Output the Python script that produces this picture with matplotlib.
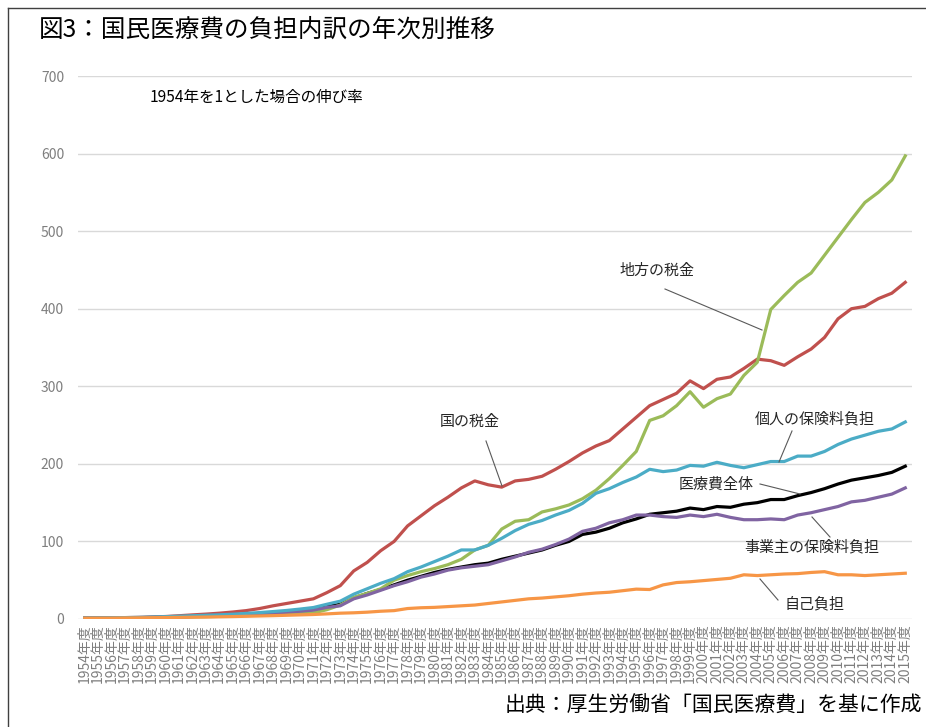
import matplotlib
matplotlib.use("Agg")
import matplotlib.pyplot as plt
from matplotlib.lines import Line2D

plt.rcParams['font.family'] = ['Noto Sans CJK JP', 'DejaVu Sans']

# 年度
years = list(range(1954, 2016))
year_labels = [f'{y}年度' for y in years]

# 1954年を1とした伸び率
national_tax = [1, 1.2, 1.5, 1.8, 2.1, 2.6, 3.2, 4.2, 5.3, 6.3, 7.5, 9, 10.8, 13.5, 17, 20, 23, 26, 34,
                43, 62, 73, 88, 100, 120, 133, 146, 157, 169, 178, 173, 170, 178, 180, 184, 193,
                203, 214, 223, 230, 245, 260, 275, 283, 291, 307, 297, 309, 312, 323, 335, 333, 327,
                338, 348, 363, 387, 400, 403, 413, 420, 434]
local_tax = [1, 1.1, 1.2, 1.4, 1.6, 1.8, 2, 2.3, 2.7, 3, 3.4, 3.9, 4.4, 5, 5.6, 6.2, 6.9, 7.8, 12,
             18, 28, 33, 39, 50, 56, 61, 65, 70, 77, 89, 95, 116, 126, 128, 138, 142,
             147, 155, 166, 181, 198, 216, 256, 262, 275, 293, 273, 284, 290, 314, 331, 399, 417,
             434, 446, 469, 492, 515, 537, 550, 566, 597]
personal_premium = [1, 1.2, 1.5, 1.8, 2.1, 2.5, 3, 3.6, 4.2, 4.8, 5.4, 6.2, 7.2, 8.3, 9.6, 11, 12.8, 14.8, 19,
                    23, 32, 39, 46, 52, 61, 67, 74, 81, 89, 89, 95, 104, 114, 122, 127, 134,
                    140, 149, 162, 168, 176, 183, 193, 190, 192, 198, 197, 202, 198, 195, 199, 203, 203,
                    210, 210, 216, 225, 232, 237, 242, 245, 254]
total_cost = [1, 1.1, 1.3, 1.5, 1.7, 2, 2.3, 2.8, 3.3, 3.9, 4.5, 5.2, 6, 7, 8, 9.2, 10.5, 12, 16,
              19, 27, 33, 38, 44, 50, 55, 60, 64, 67, 70, 72, 77, 81, 85, 89, 95,
              100, 109, 112, 117, 124, 129, 135, 137, 139, 143, 141, 145, 144, 148, 150, 154, 154,
              159, 163, 168, 174, 179, 182, 185, 189, 197]
employer_premium = [1, 1.1, 1.3, 1.5, 1.7, 2, 2.3, 2.7, 3.2, 3.7, 4.3, 5, 5.8, 6.7, 7.7, 8.8, 10, 11.5, 15,
                    17, 26, 31, 37, 43, 48, 54, 58, 63, 66, 68, 70, 75, 80, 86, 90, 96,
                    103, 113, 117, 124, 128, 134, 134, 132, 131, 134, 132, 135, 131, 128, 128, 129, 128,
                    134, 137, 141, 145, 151, 153, 157, 161, 169]
self_pay = [1, 1.1, 1.2, 1.4, 1.5, 1.7, 1.9, 2.1, 2.3, 2.5, 2.8, 3.1, 3.5, 3.9, 4.3, 4.8, 5.3, 5.8, 6.6,
            7.5, 8, 8.8, 10, 10.8, 13.5, 14.5, 15, 16, 17, 18, 20, 22, 24, 26, 27, 28.5,
            30, 32, 33.5, 34.5, 36.5, 38.5, 38, 44, 47, 48, 49.5, 51, 52.5, 57, 56, 57, 58,
            58.5, 60, 61, 57, 57, 56, 57, 58, 59]

series = [
    ('医療費全体', total_cost, '#000000'),
    ('国の税金', national_tax, '#C0504D'),
    ('地方の税金', local_tax, '#9BBB59'),
    ('事業主の保険料負担', employer_premium, '#8064A2'),
    ('個人の保険料負担', personal_premium, '#4BACC6'),
    ('自己負担', self_pay, '#F79646'),
]

W, H = 926, 727


def fx(x):
    return x / W


def fy(y):
    return 1 - y / H


fig = plt.figure(figsize=(W / 100, H / 100), dpi=100)
ax = fig.add_axes([fx(78), fy(619), fx(912) - fx(78), fy(76) - fy(619)])

xs = range(len(years))
for name, vals, color in series:
    ax.plot(xs, vals, color=color, linewidth=2.3, solid_joinstyle='round')

ax.set_xlim(-0.5, len(years) - 0.5)
ax.set_ylim(0, 700)
ax.set_yticks(range(0, 701, 100))
ax.set_xticks(list(xs))
ax.set_xticklabels(year_labels, rotation=90, fontsize=10, color='#7F7F7F')
ax.tick_params(axis='y', length=0, pad=10, labelsize=10, labelcolor='#7F7F7F')
ax.tick_params(axis='x', length=0, pad=4)
ax.grid(axis='y', color='#D9D9D9', linewidth=1)
ax.set_axisbelow(True)
for s in ax.spines.values():
    s.set_visible(False)

# タイトル・注記
fig.text(fx(39), fy(30), '図3：国民医療費の負担内訳の年次別推移', fontsize=17.7, va='center', ha='left')
fig.text(fx(150), fy(97), '1954年を1とした場合の伸び率', fontsize=11.2, va='center', ha='left')
fig.text(fx(922), fy(706), '出典：厚生労働省「国民医療費」を基に作成', fontsize=15, va='center', ha='right')

# 系列ラベルと引き出し線 (ピクセル位置)
labels = [
    ('地方の税金', (657, 271), (665, 289), (762, 330)),
    ('国の税金', (470, 422), (486, 441), (502, 486)),
    ('個人の保険料負担', (815, 419), (792, 431), (779, 462)),
    ('医療費全体', (716, 485), (760, 484), (800, 494)),
    ('事業主の保険料負担', (812, 547), (830, 537), (812, 517)),
    ('自己負担', (815, 604), (778, 600), (760, 579)),
]
for text, (tx, ty), (x0, y0), (x1, y1) in labels:
    fig.text(fx(tx), fy(ty), text, fontsize=10.8, ha='center', va='center', color='#262626')
    fig.add_artist(Line2D([fx(x0), fx(x1)], [fy(y0), fy(y1)], color='#595959', linewidth=0.8))

# 外枠
fig.add_artist(Line2D([fx(8), fx(8)], [fy(8), 0], color='#404040', linewidth=1))
fig.add_artist(Line2D([fx(8), 1], [fy(8), fy(8)], color='#404040', linewidth=1))

fig.savefig('out.png', dpi=100)
